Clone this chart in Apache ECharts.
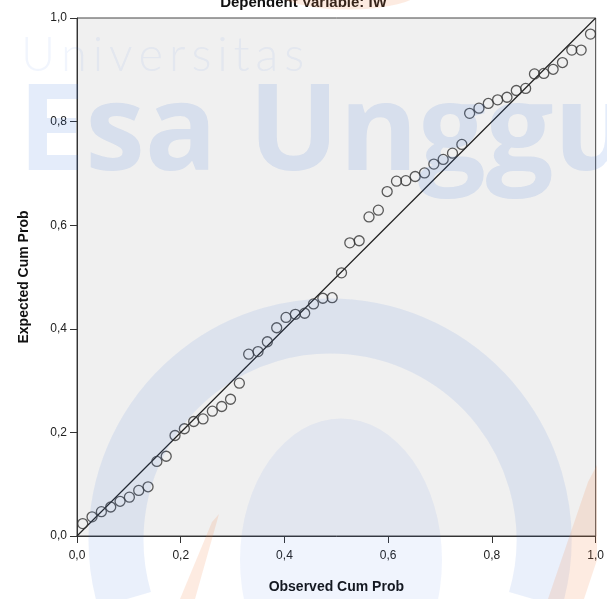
<!DOCTYPE html>
<html>
<head>
<meta charset="utf-8">
<script src="https://cdn.jsdelivr.net/npm/echarts@6/dist/echarts.min.js"></script>
<style>
  html, body { margin: 0; padding: 0; background: #fff; }
  #chart { width: 607px; height: 599px; }
</style>
</head>
<body>
<div id="chart"></div>
<script>
// observed vs expected cumulative probability (P-P plot)
const observed = [
    0.011, 0.029, 0.047, 0.065, 0.083, 0.101, 0.119, 0.137, 0.154, 0.172,
    0.189, 0.207, 0.225, 0.243, 0.261, 0.279, 0.296, 0.313, 0.331, 0.349,
    0.367, 0.385, 0.403, 0.421, 0.439, 0.456, 0.474, 0.492, 0.510, 0.526,
    0.544, 0.563, 0.581, 0.598, 0.616, 0.634, 0.652, 0.670, 0.688, 0.706,
    0.724, 0.742, 0.757, 0.775, 0.793, 0.811, 0.829, 0.847, 0.865, 0.882,
    0.900, 0.918, 0.936, 0.954, 0.972, 0.990,
];
const expected = [
    0.024, 0.037, 0.047, 0.056, 0.067, 0.075, 0.088, 0.095, 0.144, 0.154,
    0.194, 0.207, 0.221, 0.226, 0.241, 0.250, 0.264, 0.295, 0.351, 0.356,
    0.375, 0.402, 0.422, 0.428, 0.430, 0.448, 0.459, 0.460, 0.508, 0.566,
    0.570, 0.616, 0.629, 0.665, 0.685, 0.686, 0.694, 0.701, 0.718, 0.727,
    0.739, 0.756, 0.816, 0.826, 0.835, 0.842, 0.847, 0.860, 0.864, 0.892,
    0.893, 0.901, 0.914, 0.938, 0.938, 0.969,
];
const refLine = [[0, 0], [1, 1]];

const FONT = 'Liberation Sans';
const fmt = v => v.toFixed(1).replace('.', ',');

const chart = echarts.init(document.getElementById('chart'));

const axisCommon = {
    type: 'value',
    min: 0,
    max: 1,
    interval: 0.2,
    nameLocation: 'middle',
    nameTextStyle: { fontFamily: FONT, fontSize: 14, fontWeight: 'bold', color: '#111' },
    axisLine: { show: true, lineStyle: { color: '#333', width: 1 } },
    axisTick: { show: true, length: 7, lineStyle: { color: '#333' } },
    axisLabel: { formatter: fmt, fontFamily: FONT, fontSize: 12, color: '#222' },
    splitLine: { show: false },
};

// watermark bits (blue / orange logo of the source document)
const BLUE = 'rgba(50,110,220,0.10)';
const ORANGE = 'rgba(245,130,70,0.16)';
const thin = '\u2009';

chart.setOption({
    backgroundColor: '#fff',
    animation: false,
    title: {
        text: 'Dependent Variable: IW',
        left: 'center',
        top: -10,
        textStyle: { fontFamily: FONT, fontSize: 15, fontWeight: 'bold', color: '#111' },
    },
    grid: {
        left: 77, right: 11, top: 18, bottom: 63,
        show: true,
        backgroundColor: '#f0f0f0',
        borderColor: '#444',
        borderWidth: 1,
    },
    xAxis: {
        ...axisCommon,
        name: 'Observed Cum Prob',
        nameGap: 44,
        axisLabel: { ...axisCommon.axisLabel, margin: 14 },
    },
    yAxis: {
        ...axisCommon,
        name: 'Expected Cum Prob',
        nameGap: 46,
        axisLabel: { ...axisCommon.axisLabel, margin: 10 },
    },
    series: [
        {
            type: 'line',
            data: refLine,
            symbol: 'none',
            lineStyle: { color: '#222', width: 1.2 },
            z: 2,
        },
        {
            type: 'scatter',
            data: observed.map((x, i) => [x, expected[i]]),
            symbol: 'circle',
            symbolSize: 10,
            itemStyle: { color: 'rgba(0,0,0,0)', borderColor: '#333', borderWidth: 1.3 },
            z: 3,
        },
    ],
    graphic: [
        {
            type: 'arc', z: 100, silent: true,
            shape: { cx: 330, cy: 540, r: 214, startAngle: Math.PI * 0.91, endAngle: Math.PI * 2.09 },
            style: { stroke: BLUE, lineWidth: 55, fill: null },
        },
        {
            type: 'circle', z: 100, silent: true,
            x: 341, y: 560, scaleY: 1.4,
            shape: { cx: 0, cy: 0, r: 101 },
            style: { fill: 'rgba(60,120,230,0.08)' },
        },
        {
            type: 'polygon', z: 100, silent: true,
            shape: { points: [[219, 514], [212, 522], [180, 599], [195, 599]] },
            style: { fill: ORANGE },
        },
        {
            type: 'polygon', z: 100, silent: true,
            shape: { points: [[597, 465], [588, 482], [548, 599], [584, 599], [597, 560]] },
            style: { fill: ORANGE },
        },
        {
            type: 'circle', z: 100, silent: true,
            x: 348, y: -8, scaleY: 0.25,
            shape: { cx: 0, cy: 0, r: 70 },
            style: { fill: ORANGE },
        },
        {
            type: 'text', z: 100, silent: true,
            left: 21, top: 32,
            style: {
                text: ['U', 'n', 'i', 'v', 'e', 'r', 's', 'i', 't', 'a', 's'].join(thin),
                font: '300 47px Lato',
                fill: 'rgba(60,110,220,0.07)',
            },
        },
        {
            type: 'text', z: 100, silent: true,
            left: 18, top: 76,
            style: {
                text: 'Esa Unggul',
                font: 'bold 120px "Open Sans"',
                fill: 'rgba(50,110,220,0.13)',
            },
        },
    ],
});
</script>
</body>
</html>
